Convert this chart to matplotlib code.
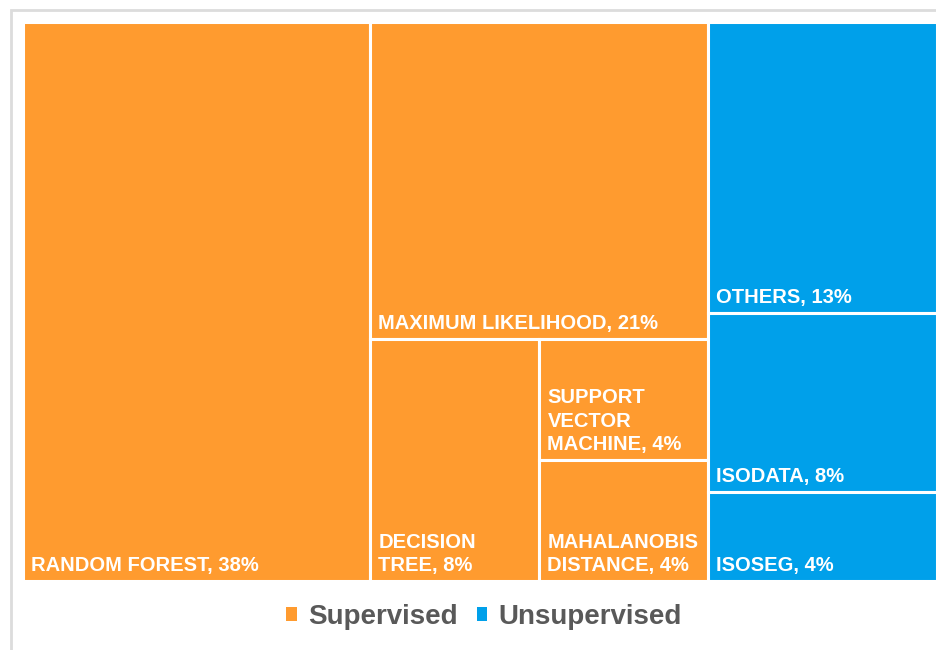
import matplotlib
matplotlib.use("Agg")
import matplotlib.pyplot as plt
from matplotlib.patches import Rectangle, Patch

# data
groups = ["Supervised", "Unsupervised"]
group_colors = ["#FF9B2F", "#00A0EA"]
supervised_names = ["RANDOM FOREST", "MAXIMUM LIKELIHOOD", "DECISION\nTREE",
                    "SUPPORT\nVECTOR\nMACHINE", "MAHALANOBIS\nDISTANCE"]
supervised_vals = [38, 21, 8, 4, 4]
unsupervised_names = ["OTHERS", "ISODATA", "ISOSEG"]
unsupervised_vals = [13, 8, 4]


def worst(row, side):
    s = sum(row)
    return max(max(side * side * r / (s * s), s * s / (side * side * r)) for r in row)


def squarify(values, x, y, w, h):
    """squarified treemap layout, values sorted descending, y grows downward"""
    total = float(sum(values))
    areas = [v * w * h / total for v in values]
    rects = []

    def layout(areas, x, y, w, h):
        if not areas:
            return
        short = min(w, h)
        row = [areas[0]]
        i = 1
        while i < len(areas) and worst(row + [areas[i]], short) <= worst(row, short):
            row.append(areas[i])
            i += 1
        s = sum(row)
        if w >= h:
            cw = s / h
            yy = y
            for a in row:
                rects.append((x, yy, cw, a / cw))
                yy += a / cw
            layout(areas[i:], x + cw, y, w - cw, h)
        else:
            rh = s / w
            xx = x
            for a in row:
                rects.append((xx, y, a / rh, rh))
                xx += a / rh
            layout(areas[i:], x, y + rh, w, h - rh)

    layout(areas, x, y, w, h)
    return rects


W, H = 914.0, 559.0
fig = plt.figure(figsize=(9.37, 6.5), dpi=100)

# light grey frame round the chart
fig.patches.append(Rectangle((11 / 937, -0.1), 1.0, (650 - 10) / 650 + 0.1,
                             transform=fig.transFigure, fill=False,
                             edgecolor="#DCDCDC", linewidth=2))

ax = fig.add_axes([23 / 937, 69 / 650, W / 937, H / 650])
ax.set_xlim(0, W)
ax.set_ylim(H, 0)
ax.axis("off")

group_vals = [sum(supervised_vals), sum(unsupervised_vals)]
group_rects = squarify(group_vals, 0, 0, W, H)
members = [(supervised_names, supervised_vals), (unsupervised_names, unsupervised_vals)]

for (gx, gy, gw, gh), color, (names, vals) in zip(group_rects, group_colors, members):
    for (x, y, w, h), name, v in zip(squarify(vals, gx, gy, gw, gh), names, vals):
        ax.add_patch(Rectangle((x, y), w, h, facecolor=color, edgecolor="white",
                               linewidth=2.2, clip_on=False))
        ax.text(x + 8, y + h - 6, "%s, %d%%" % (name, v), color="white",
                fontsize=14.5, fontweight="bold", family="Liberation Sans",
                ha="left", va="bottom", linespacing=1.3)

handles = [Patch(facecolor=c, edgecolor="none") for c in group_colors]
leg = fig.legend(handles, groups, loc="center", bbox_to_anchor=(484 / 937, 1 - 617 / 650),
                 ncol=2, frameon=False, handlelength=0.38, handleheight=0.38,
                 handletextpad=0.4, columnspacing=0.7,
                 prop={"family": "Liberation Sans", "weight": "bold", "size": 20})
for t in leg.get_texts():
    t.set_color("#595959")

fig.savefig("out.png", dpi=100)
